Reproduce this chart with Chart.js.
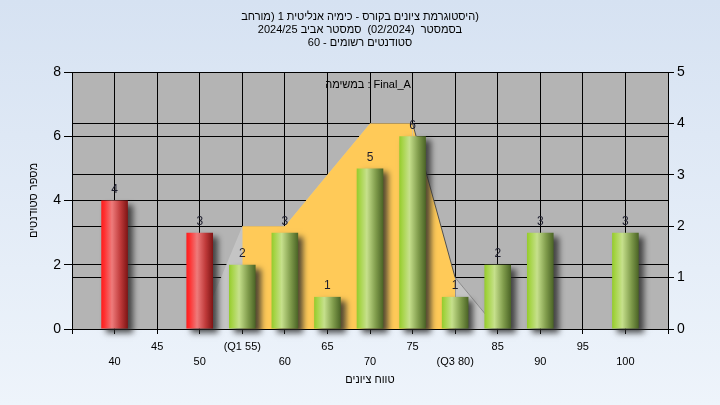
<!DOCTYPE html>
<html><head><meta charset="utf-8">
<script src="https://cdn.jsdelivr.net/npm/chart.js@4/dist/chart.umd.min.js"></script>
<style>
html,body{margin:0;padding:0;width:720px;height:405px;overflow:hidden;background:linear-gradient(180deg,#d6e2f2 0%,#eef4fb 100%);}
canvas{display:block}
</style>
</head><body>
<canvas id="c" width="720" height="405"></canvas>
<script>
const titleLines = ['(היסטוגרמת ציונים בקורס - כימיה אנליטית 1 (מורחב', 'בסמסטר  (02/2024)  סמסטר אביב 2024/25', 'סטודנטים רשומים - 60'];
const legendText = 'במשימה : Final_A';
const xAxisTitle = 'טווח ציונים';
const yAxisTitle = 'מספר סטודנטים';
const grades = [40, 45, 50, 55, 60, 65, 70, 75, 80, 85, 90, 95, 100];
const gradeLabels = ['40', '45', '50', '(Q1 55)', '60', '65', '70', '75', '(Q3 80)', '85', '90', '95', '100'];
const studentCounts = [4, 0, 3, 2, 3, 1, 5, 6, 1, 2, 3, 0, 3];
const spreadGrades = [50, 55, 60, 65, 70, 75, 80, 85];
const spreadValues = [0, 2, 2, 3, 4, 4, 1, 0];
const quartileGrades = [55, 60, 65, 70, 75, 80];
const quartileValues = [2, 2, 3, 4, 4, 1];
const passGrade = 55;

const FONT = '"Liberation Sans", "DejaVu Sans", sans-serif';
const BAR_PCT = 0.625;

function barGradient(c) {
  const chart = c.chart;
  const xs = chart.scales.x;
  const fallback = (c.raw && c.raw.x < passGrade) ? '#e03030' : '#9c3';
  if (!xs || !c.raw) return fallback;
  const cx = xs.getPixelForValue(c.raw.x);
  const half = Math.abs(xs.getPixelForValue(c.raw.x + 5) - cx) * BAR_PCT / 2;
  if (!isFinite(cx) || !isFinite(half) || half <= 0) return fallback;
  const g = chart.ctx.createLinearGradient(cx - half, 0, cx + half, 0);
  if (c.raw.x < passGrade) {
    g.addColorStop(0, '#ff1c1c'); g.addColorStop(0.12, '#ff3030');
    g.addColorStop(0.4, '#ee7b7b'); g.addColorStop(0.72, '#bf3a3a'); g.addColorStop(1, '#7e1414');
  } else {
    g.addColorStop(0, '#94cb2c'); g.addColorStop(0.12, '#a6d447');
    g.addColorStop(0.38, '#c6e08c'); g.addColorStop(0.72, '#7f9b4b'); g.addColorStop(1, '#4a6325');
  }
  return g;
}

const plotBg = {
  id: 'plotBg',
  beforeDraw(chart) {
    const {ctx, chartArea: a} = chart;
    ctx.save();
    ctx.fillStyle = '#b4b4b4';
    ctx.fillRect(a.left, a.top, a.right - a.left, a.bottom - a.top);
    ctx.restore();
  },
  afterDraw(chart) {
    const ctx = chart.ctx;
    ctx.save();
    ctx.fillStyle = '#000';
    ctx.font = '11px ' + FONT;
    ctx.textAlign = 'center';
    ctx.textBaseline = 'middle';
    ctx.direction = 'rtl';
    titleLines.forEach((t, i) => ctx.fillText(t, 360, 17 + i * 13));
    ctx.direction = 'ltr';
    ctx.fillText(legendText, 368, 85);
    ctx.restore();
  }
};

const barStyle = {
  id: 'barStyle',
  beforeDatasetDraw(chart, args) {
    if (args.meta.type !== 'bar') return;
    const ctx = chart.ctx;
    ctx.save();
    ctx.shadowColor = 'rgba(40,40,40,0.8)';
    ctx.shadowBlur = 6;
    ctx.shadowOffsetX = 5;
    ctx.shadowOffsetY = 4;
  },
  afterDatasetDraw(chart, args) {
    if (args.meta.type !== 'bar') return;
    chart.ctx.restore();
  },
  afterDatasetsDraw(chart) {
    const ctx = chart.ctx;
    const meta = chart.getDatasetMeta(2);
    ctx.save();
    ctx.font = '12px ' + FONT;
    ctx.fillStyle = '#1c1c2c';
    ctx.textAlign = 'center';
    ctx.textBaseline = 'middle';
    meta.data.forEach((el, i) => {
      if (studentCounts[i] > 0) ctx.fillText(String(studentCounts[i]), el.x, el.y - 11);
    });
    ctx.restore();
  }
};

new Chart(document.getElementById('c'), {
  type: 'bar',
  data: {
    datasets: [
      {
        type: 'line', order: 3, yAxisID: 'y2',
        data: spreadGrades.map((g, i) => ({x: g, y: spreadValues[i]})),
        backgroundColor: '#c4c4c4', fill: 'origin', pointRadius: 0, borderWidth: 1, tension: 0,
        borderColor: 'transparent',
        segment: {borderColor: c => c.p0.parsed.x >= 80 ? '#8c8c8c' : 'transparent'}
      },
      {
        type: 'line', order: 2, yAxisID: 'y2',
        data: quartileGrades.map((g, i) => ({x: g, y: quartileValues[i]})),
        backgroundColor: '#ffca58', fill: 'origin', pointRadius: 0, borderWidth: 1, tension: 0,
        borderColor: 'transparent',
        segment: {borderColor: c => c.p0.parsed.x >= 75 ? '#505050' : 'transparent'}
      },
      {
        type: 'bar', order: 1, yAxisID: 'y', clip: false,
        data: grades.map((g, i) => ({x: g, y: studentCounts[i]})),
        backgroundColor: barGradient, borderWidth: 0,
        categoryPercentage: 1, barPercentage: BAR_PCT
      }
    ]
  },
  options: {
    responsive: false, animation: false, devicePixelRatio: 1,
    layout: {padding: {top: 72, left: 0, right: 0, bottom: 0}},
    plugins: {legend: {display: false}, tooltip: {enabled: false}, title: {display: false}},
    scales: {
      x: {
        type: 'linear', min: 35, max: 105, offset: false,
        afterFit: s => { s.height = 76; },
        grid: {color: '#000', offset: false, tickLength: 5, tickColor: '#000'},
        border: {color: '#000'},
        ticks: {
          stepSize: 5, autoSkip: false, maxRotation: 0, padding: 6, color: '#000',
          font: {family: FONT, size: 11, lineHeight: 1.35},
          callback: v => {
            const i = grades.indexOf(v);
            if (i < 0) return '';
            return i % 2 === 0 ? ['', gradeLabels[i]] : [gradeLabels[i], ''];
          }
        },
        title: {display: true, text: xAxisTitle, color: '#000', font: {family: FONT, size: 11}, padding: {top: 0, bottom: 18}}
      },
      y: {
        position: 'left', min: 0, max: 8,
        afterFit: s => { s.width = 72; },
        grid: {color: '#000', tickLength: 8, tickColor: '#000'},
        border: {color: '#000'},
        ticks: {stepSize: 2, padding: 3, color: '#000', font: {family: FONT, size: 14}},
        title: {display: true, text: yAxisTitle, color: '#000', font: {family: FONT, size: 11}, padding: {top: 27, bottom: 0}}
      },
      y2: {
        position: 'right', min: 0, max: 5,
        afterFit: s => { s.width = 52; },
        grid: {color: '#000', tickLength: 6, tickColor: '#000'},
        border: {color: '#000'},
        ticks: {stepSize: 1, padding: 3, color: '#000', font: {family: FONT, size: 14}}
      }
    }
  },
  plugins: [plotBg, barStyle]
});
</script>
</body></html>
